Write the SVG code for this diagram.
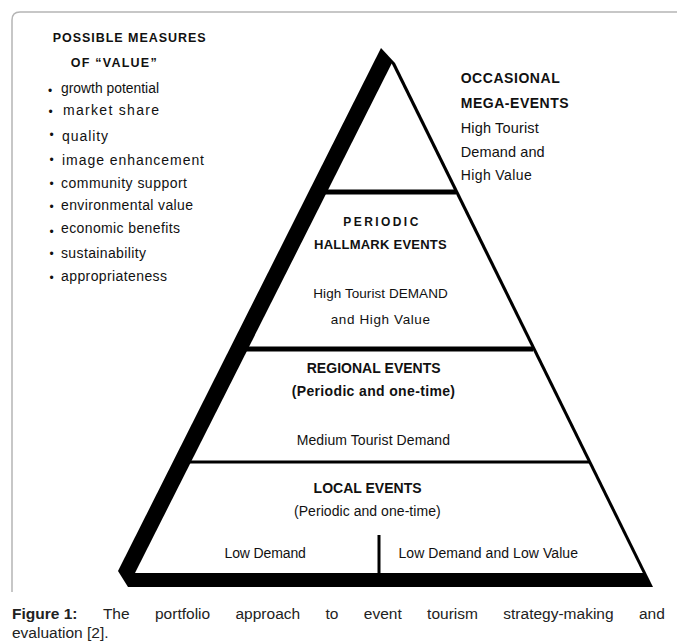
<svg xmlns="http://www.w3.org/2000/svg" width="677" height="643" viewBox="0 0 677 643">
<style>
text{font-family:"Liberation Sans",Arial,sans-serif;fill:#111}
.b{font-weight:bold}
.li{font-size:14px}
.bu{font-size:12px}
.pt{font-size:14px}
.cap{font-size:15.5px;fill:#222}
</style>
<rect x="0" y="0" width="677" height="643" fill="#fff"/>
<path id="frame" d="M12 592 V20 Q12 12 20 12 H677" fill="none" stroke="#b5b5b5" stroke-width="1.5"/>
<g id="pyramid">
<polygon points="381,48 395,63 653,587 128,587 118,571" fill="#000"/>
<polygon points="391.7,63.6 642.8,573 135,573" fill="#fff"/>
</g>
<g id="connectors" stroke="#000" fill="none">
<line x1="325" y1="192" x2="456" y2="192" stroke-width="5"/>
<line x1="245" y1="349" x2="533" y2="349" stroke-width="5"/>
<line x1="188" y1="462" x2="589" y2="462" stroke-width="3"/>
<line x1="379" y1="535" x2="379" y2="574" stroke-width="3"/>
</g>
<g id="measures">
<text class="b" x="52.7" y="41.7" font-size="12.5" textLength="153" lengthAdjust="spacing">POSSIBLE MEASURES</text>
<text class="b" x="70.7" y="66.7" font-size="12.5" textLength="86" lengthAdjust="spacing">OF “VALUE”</text>
<text class="bu" x="48" y="95">•</text>
<text class="li" x="61" y="92.7" textLength="98" lengthAdjust="spacingAndGlyphs">growth potential</text>
<text class="bu" x="48.5" y="116.3">•</text>
<text class="li" x="63" y="115" textLength="96" lengthAdjust="spacing">market share</text>
<text class="bu" x="49.5" y="139.3">•</text>
<text class="li" x="62" y="140.5" textLength="46" lengthAdjust="spacing">quality</text>
<text class="bu" x="49.5" y="164.3">•</text>
<text class="li" x="62" y="165" textLength="142" lengthAdjust="spacing">image enhancement</text>
<text class="bu" x="49.5" y="188.3">•</text>
<text class="li" x="61" y="187.5" textLength="126" lengthAdjust="spacing">community support</text>
<text class="bu" x="49.5" y="211.3">•</text>
<text class="li" x="61" y="210" textLength="132" lengthAdjust="spacing">environmental value</text>
<text class="bu" x="49.5" y="236">•</text>
<text class="li" x="61" y="232.7" textLength="119" lengthAdjust="spacing">economic benefits</text>
<text class="bu" x="49.5" y="258.3">•</text>
<text class="li" x="61" y="258" textLength="85" lengthAdjust="spacing">sustainability</text>
<text class="bu" x="49.5" y="282.3">•</text>
<text class="li" x="61" y="281" textLength="106" lengthAdjust="spacing">appropriateness</text>
</g>
<g id="mega">
<text class="b" x="460.7" y="83.3" font-size="14" textLength="99" lengthAdjust="spacing">OCCASIONAL</text>
<text class="b" x="460.7" y="107.7" font-size="14" textLength="108" lengthAdjust="spacing">MEGA-EVENTS</text>
<text x="460.7" y="133.3" font-size="14.5" textLength="78" lengthAdjust="spacing">High Tourist</text>
<text x="460.7" y="156.7" font-size="14.5" textLength="84" lengthAdjust="spacing">Demand and</text>
<text x="460.7" y="180" font-size="14" textLength="71" lengthAdjust="spacing">High Value</text>
</g>
<g id="hallmark">
<text class="b" x="343.3" y="226" font-size="12" textLength="75" lengthAdjust="spacing">PERIODIC</text>
<text class="b" x="314" y="249.3" font-size="13" textLength="132.7" lengthAdjust="spacing">HALLMARK EVENTS</text>
<text x="313.3" y="298.3" font-size="13.5" textLength="134.4" lengthAdjust="spacing">High Tourist DEMAND</text>
<text x="330.7" y="324" font-size="13.5" textLength="99.3" lengthAdjust="spacing">and High Value</text>
</g>
<g id="regional">
<text class="b pt" x="306.7" y="372.7" textLength="134" lengthAdjust="spacing">REGIONAL EVENTS</text>
<text class="b pt" x="291.7" y="395.5" textLength="163.3" lengthAdjust="spacing">(Periodic and one-time)</text>
<text class="pt" x="296.7" y="445" textLength="153.3" lengthAdjust="spacing">Medium Tourist Demand</text>
</g>
<g id="local">
<text class="b pt" x="313.6" y="493" textLength="108" lengthAdjust="spacing">LOCAL EVENTS</text>
<text class="pt" x="294" y="516" textLength="146.7" lengthAdjust="spacing">(Periodic and one-time)</text>
<text class="pt" x="224.5" y="558" textLength="81.4" lengthAdjust="spacing">Low Demand</text>
<text class="pt" x="398.5" y="558" textLength="179.5" lengthAdjust="spacing">Low Demand and Low Value</text>
</g>
<g id="caption">
<text class="cap" y="619"><tspan class="b" x="12">Figure 1:</tspan><tspan x="102.9">The</tspan><tspan x="155">portfolio</tspan><tspan x="235.5">approach</tspan><tspan x="325.5">to</tspan><tspan x="363.8">event</tspan><tspan x="427.1">tourism</tspan><tspan x="503.3">strategy-making</tspan><tspan x="639">and</tspan></text>
<text class="cap" x="12" y="638">evaluation [2].</text>
</g>
</svg>
